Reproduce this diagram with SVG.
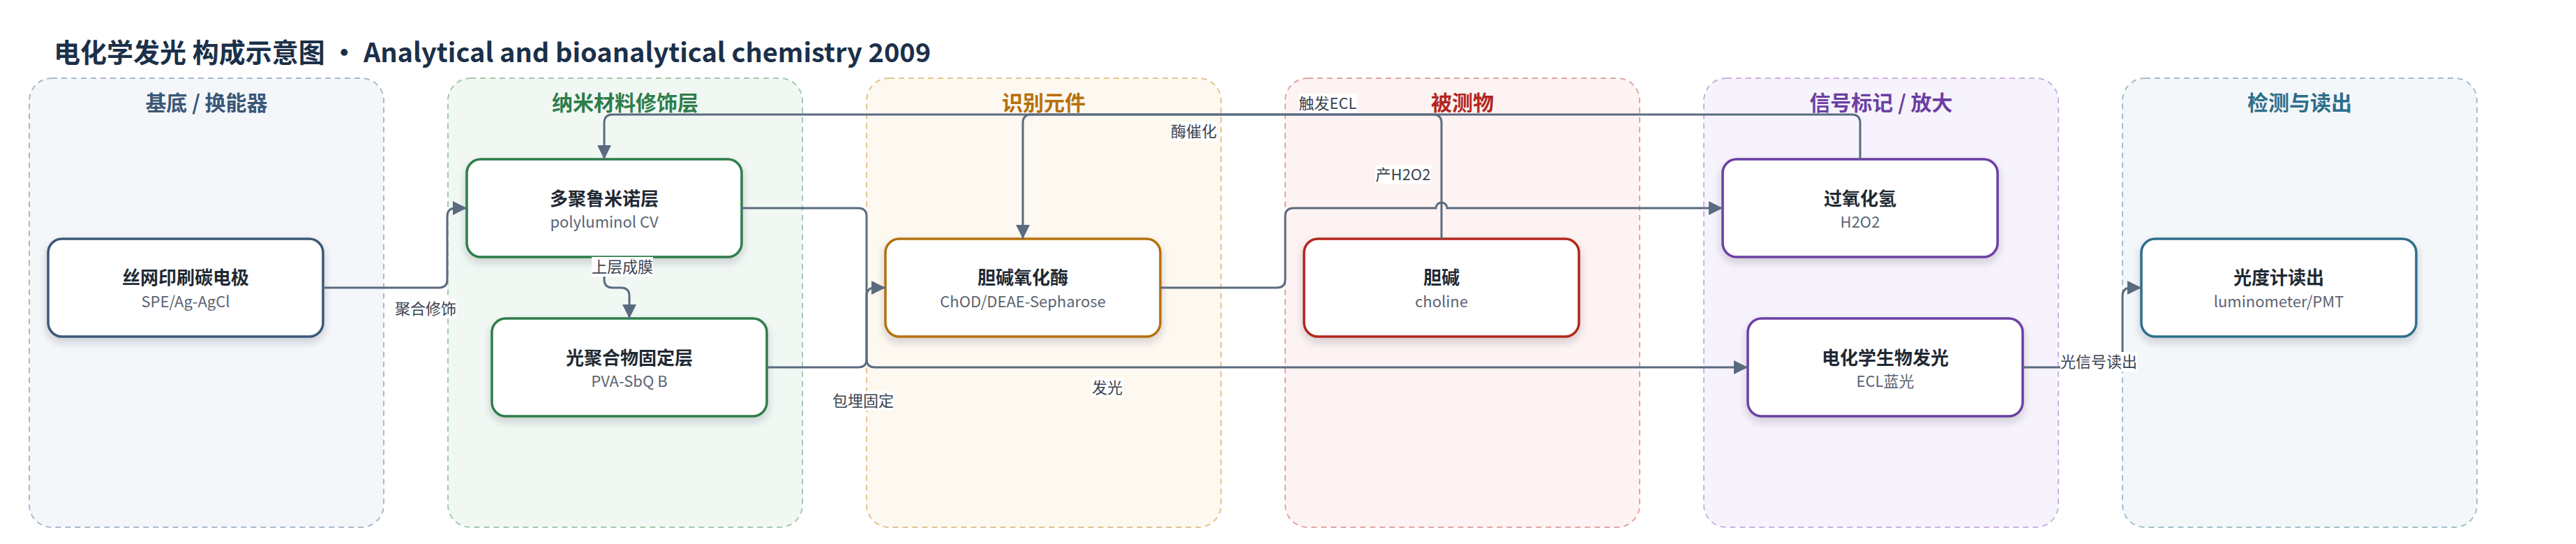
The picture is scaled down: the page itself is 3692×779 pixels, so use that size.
<svg xmlns="http://www.w3.org/2000/svg" width="3692" height="779" viewBox="0 0 3692 779">
<defs>
<style>
text{font-family:"Noto Sans CJK SC","Noto Sans",sans-serif}
.title{font-size:38px;font-weight:700;fill:#1b3049}
.lane{stroke-width:2;stroke-dasharray:8 6}
.lt{font-size:30px;font-weight:700;text-anchor:middle}
.node{fill:#fff;stroke-width:3.5;filter:url(#sh)}
.nt{font-size:26px;font-weight:700;fill:#1f2933;text-anchor:middle}
.ns{font-size:22px;fill:#5b6472;text-anchor:middle}
.e{fill:none;stroke:#5a6b80;stroke-width:3}
.ea{marker-end:url(#arr)}
.lb{fill:#fff}
.lbt{font-size:22px;fill:#3a4250;text-anchor:middle}
</style>
<filter id="sh" x="-10%" y="-10%" width="120%" height="140%">
<feDropShadow dx="0" dy="6" stdDeviation="6" flood-color="#1e2a3a" flood-opacity="0.2"/>
</filter>
<marker id="arr" viewBox="0 0 20 20" refX="20" refY="10" markerWidth="20" markerHeight="20" markerUnits="userSpaceOnUse" orient="auto">
<path d="M0,0 L20,10 L0,20 z" fill="#5a6b80"/>
</marker>
</defs>
<rect width="3692" height="779" fill="#fff"/>
<text class="title" x="77" y="89">电化学发光 构成示意图 · Analytical and bioanalytical chemistry 2009</text>

<g id="lanes">
<g id="lane-substrate"><rect class="lane" x="42" y="112" width="508" height="643" rx="32" fill="#f4f6fa" stroke="#aab8cc"/><text class="lt" x="296" y="158" fill="#3b5878">基底 / 换能器</text></g>
<g id="lane-nano"><rect class="lane" x="642" y="112" width="508" height="643" rx="32" fill="#f1f8f3" stroke="#a3c9ae"/><text class="lt" x="896" y="158" fill="#2e7d4a">纳米材料修饰层</text></g>
<g id="lane-recog"><rect class="lane" x="1242" y="112" width="508" height="643" rx="32" fill="#fdf8f0" stroke="#e2c48f"/><text class="lt" x="1496" y="158" fill="#b5700c">识别元件</text></g>
<g id="lane-analyte"><rect class="lane" x="1842" y="112" width="508" height="643" rx="32" fill="#fdf3f2" stroke="#e4a3a3"/><text class="lt" x="2096" y="158" fill="#b3261e">被测物</text></g>
<g id="lane-signal"><rect class="lane" x="2442" y="112" width="508" height="643" rx="32" fill="#f7f3fc" stroke="#c8b2e3"/><text class="lt" x="2696" y="158" fill="#6b3fa3">信号标记 / 放大</text></g>
<g id="lane-detect"><rect class="lane" x="3042" y="112" width="508" height="643" rx="32" fill="#f3f7f9" stroke="#a3bfcc"/><text class="lt" x="3296" y="158" fill="#2f6d8c">检测与读出</text></g>
</g>

<g id="n-spe"><rect class="node" x="69" y="342" width="394" height="140" rx="20" stroke="#3b5878"/><text class="nt" x="266" y="407">丝网印刷碳电极</text><text class="ns" x="266" y="440">SPE/Ag-AgCl</text></g>
<g id="n-polyluminol"><rect class="node" x="669" y="228" width="394" height="140" rx="20" stroke="#2e7d4a"/><text class="nt" x="866" y="294">多聚鲁米诺层</text><text class="ns" x="866" y="326">polyluminol CV</text></g>
<g id="n-pva"><rect class="node" x="705" y="456" width="394" height="140" rx="20" stroke="#2e7d4a"/><text class="nt" x="902" y="522">光聚合物固定层</text><text class="ns" x="902" y="554">PVA-SbQ B</text></g>
<g id="n-chod"><rect class="node" x="1269" y="342" width="394" height="140" rx="20" stroke="#b5700c"/><text class="nt" x="1466" y="407">胆碱氧化酶</text><text class="ns" x="1466" y="440">ChOD/DEAE-Sepharose</text></g>
<g id="n-choline"><rect class="node" x="1869" y="342" width="394" height="140" rx="20" stroke="#b3261e"/><text class="nt" x="2066" y="407">胆碱</text><text class="ns" x="2066" y="440">choline</text></g>
<g id="n-h2o2"><rect class="node" x="2469" y="228" width="394" height="140" rx="20" stroke="#6b3fa3"/><text class="nt" x="2666" y="294">过氧化氢</text><text class="ns" x="2666" y="326">H2O2</text></g>
<g id="n-ecl"><rect class="node" x="2505" y="456" width="394" height="140" rx="20" stroke="#6b3fa3"/><text class="nt" x="2702" y="522">电化学生物发光</text><text class="ns" x="2702" y="554">ECL蓝光</text></g>
<g id="n-pmt"><rect class="node" x="3069" y="342" width="394" height="140" rx="20" stroke="#2f6d8c"/><text class="nt" x="3266" y="407">光度计读出</text><text class="ns" x="3266" y="440">luminometer/PMT</text></g>

<g id="connectors">
<path class="e ea" d="M463,412 H629 Q641,412 641,400 V310 Q641,298 653,298 H669"/>
<path class="e ea" d="M866,368 V400 Q866,412 878,412 H890 Q902,412 902,424 V456"/>
<path class="e ea" d="M1063,298 H1230 Q1242,298 1242,310 V514 Q1242,526 1254,526 H2505"/>
<path class="e ea" d="M1099,526 H1230 Q1242,526 1242,514 V424 Q1242,412 1254,412 H1269"/>
<path class="e ea" d="M2066,342 V176 Q2066,164 2054,164 H1478 Q1466,164 1466,176 V342"/>
<path class="e ea" d="M1663,412 H1830 Q1842,412 1842,400 V310 Q1842,298 1854,298 H2058 A8,8 0 0 1 2074,298 H2469"/>
<path class="e ea" d="M2666,228 V176 Q2666,164 2654,164 H878 Q866,164 866,176 V228"/>
<path class="e ea" d="M2899,526 H3030 Q3042,526 3042,514 V424 Q3042,412 3054,412 H3069"/>
<g id="labels">
<rect class="lb" x="566" y="428" width="88" height="28"/><text class="lbt" x="610" y="450">聚合修饰</text>
<rect class="lb" x="848" y="368" width="88" height="28"/><text class="lbt" x="892" y="390">上层成膜</text>
<rect class="lb" x="1193" y="560" width="88" height="28"/><text class="lbt" x="1237" y="582">包埋固定</text>
<rect class="lb" x="1564" y="541" width="46" height="28"/><text class="lbt" x="1587" y="563">发光</text>
<rect class="lb" x="1678" y="174" width="66" height="28"/><text class="lbt" x="1711" y="196">酶催化</text>
<rect class="lb" x="1861" y="134" width="84" height="28"/><text class="lbt" x="1903" y="156">触发ECL</text>
<rect class="lb" x="1971" y="236" width="80" height="28"/><text class="lbt" x="2011" y="258">产H2O2</text>
<rect class="lb" x="2953" y="504" width="110" height="28"/><text class="lbt" x="3008" y="526">光信号读出</text>
</g>
</g>
</svg>
